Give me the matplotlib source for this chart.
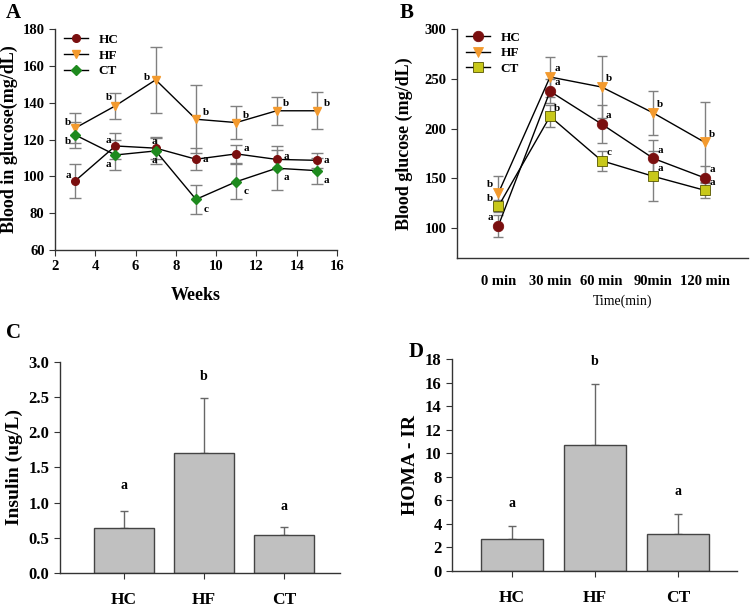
import numpy as np
import matplotlib
matplotlib.use("Agg")
from matplotlib import pyplot as plt

plt.rcParams["font.family"] = ["Liberation Serif", "DejaVu Serif"]
plt.rcParams["font.weight"] = "bold"

# Panel A: fasting glucose over weeks
weeks = [3, 5, 7, 9, 11, 13, 15]
a_hc = [97.5, 116.5, 115.3, 109.3, 112.2, 109.2, 108.7]
a_hc_err = [9, 7, 6, 6, 5, 5, 4]
a_hf = [126.2, 138.3, 152.4, 131.0, 129.2, 135.6, 135.6]
a_hf_err = [8, 7, 18, 18.5, 9, 7.5, 10]
a_ct = [122.5, 111.6, 113.8, 87.5, 97.1, 104.4, 103.1]
a_ct_err = [7, 8, 7, 8, 9.5, 12, 7]
a_hc_lab = ["a", "a", "a", "a", "a", "a", "a"]
a_hf_lab = ["b", "b", "b", "b", "b", "b", "b"]
a_ct_lab = ["b", "a", "a", "c", "c", "a", "a"]

# Panel B: OGTT
times = ["0 min", "30 min", "60 min", "90min", "120 min"]
b_hc = [102.3, 237.4, 204.5, 170.0, 150.3]
b_hc_err = [11, 12, 19, 19, 12]
b_hf = [135.0, 251.8, 241.7, 215.6, 186.0]
b_hf_err = [17, 20, 31, 22, 41]
b_ct = [121.8, 212.2, 167.7, 152.0, 137.9]
b_ct_err = [6, 11, 10, 25, 8]
b_hc_lab = ["a", "a", "a", "a", "a"]
b_hf_lab = ["b", "a", "b", "b", "b"]
b_ct_lab = ["b", "b", "c", "a", "a"]

# Panels C, D: bars
groups = ["HC", "HF", "CT"]
insulin = [0.638, 1.71, 0.543]
insulin_err = [0.25, 0.78, 0.11]
insulin_lab = ["a", "b", "a"]
homa = [2.75, 10.68, 3.18]
homa_err = [1.03, 5.16, 1.68]
homa_lab = ["a", "b", "a"]

HC_C = "#7a0f0f"
HF_C = "#f39a2e"
CT_C = "#1e8a1e"
CT_B = "#c8c81a"
ERR_C = "#808080"

fig = plt.figure(figsize=(7.5, 6.08), dpi=100)


def style_axes(ax, size=10):
    for s in ["top", "right"]:
        ax.spines[s].set_visible(False)
    for s in ["left", "bottom"]:
        ax.spines[s].set_color("#333333")
        ax.spines[s].set_linewidth(1.0)
    ax.tick_params(labelsize=size, length=4, color="#333333")
    for t in ax.get_xticklabels() + ax.get_yticklabels():
        t.set_fontweight("bold")


def put_labels(ax, xs, ys, labs, offs):
    for x, y, l, o in zip(xs, ys, labs, offs):
        ax.annotate(l, (x, y), xytext=o, textcoords="offset points",
                    fontsize=8, fontweight="bold", ha="center", va="center")


# ---------- A ----------
axA = fig.add_axes([0.0733, 0.5888, 0.376, 0.3635])
for ys, err, col, mk, lab in [(a_hc, a_hc_err, HC_C, "o", "HC"),
                              (a_hf, a_hf_err, HF_C, "v", "HF"),
                              (a_ct, a_ct_err, CT_C, "D", "CT")]:
    axA.errorbar(weeks, ys, yerr=err, fmt="none", ecolor=ERR_C, elinewidth=1,
                 capsize=4, zorder=1)
    axA.plot(weeks, ys, "-", color="black", lw=1, marker=mk, ms=5.5 if mk != "D" else 5,
             mfc=col, mec=col, label=lab, zorder=3)
put_labels(axA, weeks, a_hc, a_hc_lab,
           [(-5, 4), (-5, 4), (-1, 5), (7, 0), (7, 4), (7, 2), (7, 0)])
put_labels(axA, weeks, a_hf, a_hf_lab,
           [(-5, 4), (-5, 6), (-6, 2), (7, 5), (7, 5), (7, 5), (7, 5)])
put_labels(axA, weeks, a_ct, a_ct_lab,
           [(-5, -5), (-5, -7), (-1, -7), (7, -7), (7, -7), (7, -7), (7, -7)])
axA.set_xlim(2, 16)
axA.set_ylim(60, 180)
axA.set_xticks(np.arange(2, 17, 2))
axA.set_yticks(np.arange(60, 181, 20))
axA.set_xlabel("Weeks", fontsize=13, fontweight="bold", labelpad=10)
axA.set_ylabel("Blood in glucose(mg/dL)", fontsize=13, fontweight="bold", labelpad=3)
style_axes(axA, 10.5)
axA.legend(loc="upper left", bbox_to_anchor=(0.0, 1.02), frameon=False,
           prop={"size": 9.5, "weight": "bold"}, handlelength=1.8,
           borderaxespad=0.3, labelspacing=0.25)

# ---------- B ----------
axB = fig.add_axes([0.6093, 0.5757, 0.388, 0.3766])
xb = np.arange(len(times))
for ys, err, col, mk, lab in [(b_hc, b_hc_err, HC_C, "o", "HC"),
                              (b_hf, b_hf_err, HF_C, "v", "HF"),
                              (b_ct, b_ct_err, CT_B, "s", "CT")]:
    axB.errorbar(xb, ys, yerr=err, fmt="none", ecolor=ERR_C, elinewidth=1,
                 capsize=3.5, zorder=1)
    axB.plot(xb, ys, "-", color="black", lw=1, marker=mk, ms=7.5 if mk != "s" else 7,
             mfc=col, mec="#555500" if mk == "s" else col, mew=0.6, label=lab, zorder=3)
right_up = [(-6, 6)] + [(5, 6)] * 4
put_labels(axB, xb, b_hc, b_hc_lab, right_up)
put_labels(axB, xb, b_hf, b_hf_lab, right_up)
put_labels(axB, xb, b_ct, b_ct_lab, right_up)
axB.set_xlim(-0.8, 4.83)
axB.set_ylim(70, 300)
axB.set_xticks(xb)
axB.set_xticklabels(times)
axB.set_yticks(np.arange(100, 301, 50))
axB.set_xlabel("Time(min)", fontsize=10, fontweight="normal", labelpad=6)
axB.xaxis.set_label_coords(0.57, -0.16)
axB.set_ylabel("Blood glucose (mg/dL)", fontsize=13, fontweight="bold", labelpad=8)
style_axes(axB, 10.5)
axB.tick_params(axis="x", length=0, pad=12)
axB.legend(loc="upper left", bbox_to_anchor=(0.0, 1.03), frameon=False,
           prop={"size": 9.5, "weight": "bold"}, handlelength=1.8,
           borderaxespad=0.3, labelspacing=0.25)


# ---------- C, D ----------
def bar_panel(rect, vals, errs, labs, ylim, yticks, ylabel, xlim, fmt, lab_y):
    ax = fig.add_axes(rect)
    xs = np.arange(len(groups))
    ax.bar(xs, vals, width=0.75, color="#c0c0c0", edgecolor="#444444", lw=1, zorder=2)
    ax.errorbar(xs, vals, yerr=[np.zeros(len(vals)), errs], fmt="none",
                ecolor="#666666", elinewidth=1, capsize=3, zorder=1)
    for x, y, l in zip(xs, lab_y, labs):
        ax.text(x, y, l, fontsize=10, fontweight="bold", ha="center", va="center")
    ax.set_xlim(*xlim)
    ax.set_ylim(*ylim)
    ax.set_xticks(xs)
    ax.set_xticklabels(groups)
    ax.set_yticks(yticks)
    ax.set_yticklabels([fmt.format(v) for v in yticks])
    ax.set_ylabel(ylabel, fontsize=14, fontweight="bold", labelpad=4)
    style_axes(ax, 12)
    ax.tick_params(axis="x", labelsize=12.5, pad=10)
    return ax


axC = bar_panel([0.08, 0.0576, 0.3733, 0.347], insulin, insulin_err, insulin_lab,
                (0, 3.0), np.arange(0, 3.01, 0.5), "Insulin (ug/L)", (-0.8, 2.7),
                "{:.1f}", [1.25, 2.80, 0.945])
axD = bar_panel([0.6027, 0.0609, 0.38, 0.3487], homa, homa_err, homa_lab,
                (0, 18), np.arange(0, 19, 2), "HOMA - IR", (-0.72, 2.71),
                "{:.0f}", [5.73, 17.8, 6.73])

# panel letters
for s, x, y in [("A", 0.008, 0.978), ("B", 0.533, 0.978), ("C", 0.008, 0.452),
                ("D", 0.545, 0.421)]:
    fig.text(x, y, s, fontsize=15, fontweight="bold", va="center", ha="left")

fig.savefig("out.png", dpi=100)
